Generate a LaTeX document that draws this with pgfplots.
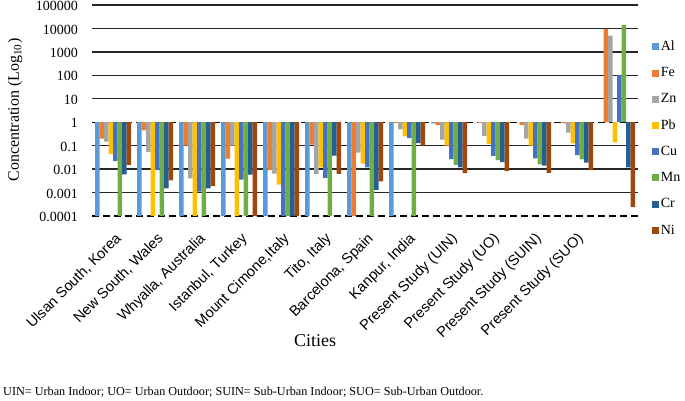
\documentclass[border=0pt]{standalone}
\usepackage{fontspec}
\setmainfont{Liberation Serif}
\setsansfont{Liberation Sans}
\usepackage{pgfplots}
\usepackage{pgfplotstable}
\pgfplotsset{compat=1.18}
\definecolor{cAl}{HTML}{5B9BD5}
\definecolor{cFe}{HTML}{ED7D31}
\definecolor{cZn}{HTML}{A5A5A5}
\definecolor{cPb}{HTML}{FFC000}
\definecolor{cCu}{HTML}{4472C4}
\definecolor{cMn}{HTML}{70AD47}
\definecolor{cCr}{HTML}{255E91}
\definecolor{cNi}{HTML}{9E480E}
\pgfplotstableread{
x Al Fe Zn Pb Cu Mn Cr Ni
0 0.0001 0.2 0.15 0.045 0.022 0.0001 0.006 0.015
1 0.0001 0.45 0.055 0.0001 0.009 0.0001 0.0015 0.0033
2 0.0001 0.1 0.004 0.0001 0.0011 0.0001 0.0015 0.0019
3 0.0001 0.028 0.1 0.0001 0.0036 0.0001 0.0058 0.0001
4 0.0001 0.009 0.0065 0.0022 0.0001 0.0001 0.0001 0.0001
5 0.0001 0.11 0.0062 0.012 0.0042 0.0001 0.038 0.0062
6 0.0001 0.0001 0.05 0.017 0.012 0.0001 0.0013 0.003
7 0.0001 0.93 0.5 0.25 0.21 0.0001 0.13 0.1
8 0.9 0.75 0.18 0.1 0.027 0.015 0.012 0.0068
9 1 0.93 0.26 0.12 0.037 0.024 0.02 0.0083
10 1 0.77 0.2 0.1 0.029 0.016 0.014 0.007
11 1 0.9 0.36 0.125 0.04 0.026 0.019 0.009
12 1 9500 5000 0.14 105 14000 0.012 0.00024
}\datatable
\begin{document}
\begin{tikzpicture}[x=1pt,y=1pt]
\useasboundingbox (0,0) rectangle (685,-400);
\begin{axis}[
  at={(92pt,-216pt)}, anchor=south west,
  scale only axis, width=546pt, height=211pt,
  ymode=log, ymin=0.0001, ymax=100000,
  xmin=-0.5, xmax=12.5, enlarge x limits=false,
  ybar=0pt, bar width=4.5pt,
  axis line style={draw=none},
  tick style={draw=none},
  ytick={0.001,0.01,0.1,10,100,1000,10000,100000},
  yticklabels={0.001,0.01,0.1,10,100,1000,10000,100000},
  extra y ticks={0.0001,1},
  extra y tick labels={0.0001,1},
  extra y tick style={grid=major, major grid style={black, line width=1.3pt, dash pattern=on 7pt off 4pt}},
  ymajorgrids=true,
  major grid style={black!85, line width=1.3pt},
  yticklabel style={font=\fontsize{14}{16}\selectfont, anchor=east, inner sep=0pt, xshift=-14pt, yshift=-1pt},
  xtick={0,1,2,3,4,5,6,7,8,9,10,11},
  xticklabels={{Ulsan South, Korea},{New South, Wales},{Whyalla, Australia},{Istanbul, Turkey},{Mount Cimone,Italy},{Tito, Italy},{Barcelona, Spain},{Kanpur, India},{Present Study (UIN)},{Present Study (UO)},{Present Study (SUIN)},{Present Study (SUO)}},
  xticklabel style={font=\sffamily\fontsize{14.6}{16}\selectfont, rotate=45, anchor=north east, inner sep=0pt, yshift=-9pt, xshift=-7pt},
  legend style={at={(axis description cs:1.025,0.83)}, anchor=north west, draw=none, fill=none, inner sep=0pt,
    font=\fontsize{14}{16}\selectfont, row sep=15.4pt, nodes={inner xsep=2pt, inner ysep=0pt}},
  legend cell align=left,
  legend image code/.code={\path[#1] (0pt,-3.5pt) rectangle (7pt,3.5pt);},
]
\addplot[fill=cAl, draw=none] table[x=x, y=Al] {\datatable};
\addplot[fill=cFe, draw=none] table[x=x, y=Fe] {\datatable};
\addplot[fill=cZn, draw=none] table[x=x, y=Zn] {\datatable};
\addplot[fill=cPb, draw=none] table[x=x, y=Pb] {\datatable};
\addplot[fill=cCu, draw=none] table[x=x, y=Cu] {\datatable};
\addplot[fill=cMn, draw=none] table[x=x, y=Mn] {\datatable};
\addplot[fill=cCr, draw=none] table[x=x, y=Cr] {\datatable};
\addplot[fill=cNi, draw=none] table[x=x, y=Ni] {\datatable};
\legend{Al,Fe,Zn,Pb,Cu,Mn,Cr,Ni}
\end{axis}
\node[rotate=90, font=\fontsize{16}{18}\selectfont] at (15,-110) {Concentration (Log\textsubscript{10})};
\node[font=\fontsize{18}{20}\selectfont] at (315,-341) {Cities};
\node[anchor=west, font=\fontsize{12.2}{14}\selectfont, inner sep=0pt] at (3,-392) {UIN= Urban Indoor; UO= Urban Outdoor; SUIN= Sub-Urban Indoor; SUO= Sub-Urban Outdoor.};
\end{tikzpicture}
\end{document}
